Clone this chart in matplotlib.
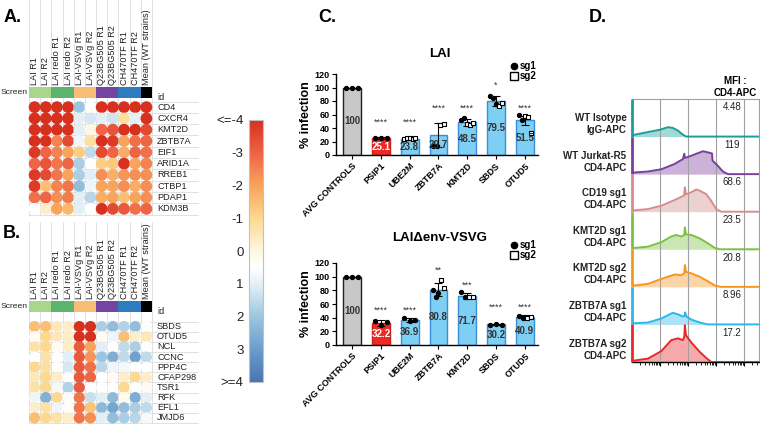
import numpy as np
import matplotlib
matplotlib.use('Agg')
import matplotlib.pyplot as plt
from matplotlib.colors import LinearSegmentedColormap, Normalize
from matplotlib.patches import Rectangle
from matplotlib.lines import Line2D
import matplotlib.cm as cm

plt.rcParams['font.family'] = ['Liberation Sans', 'DejaVu Sans']

# ---- panel A / B data ----
screens = ['LAI R1', 'LAI R2', 'LAI redo R1', 'LAI redo R2', 'LAI-VSVg R1', 'LAI-VSVg R2',
           'Q23BG505 R1', 'Q23BG505 R2', 'CH470TF R1', 'CH470TF R2', 'Mean (WT strains)']
screen_colors = ['#a8d68a', '#a8d68a', '#5bb56e', '#5bb56e', '#f8bd74', '#f8bd74',
                 '#7444a0', '#7444a0', '#2e7cc0', '#2e7cc0', '#000000']

genes_a = ['CD4', 'CXCR4', 'KMT2D', 'ZBTB7A', 'EIF1', 'ARID1A', 'RREB1', 'CTBP1', 'PDAP1', 'KDM3B']
vals_a = [
    [-4, -4, -4, -4, 2.0, 0.5, -4, -4, -4, -4, -4],
    [-4, -4, -4, -4, 1.0, 1.2, 1.0, 1.3, -0.8, 1.0, -4],
    [-4, -4, -4, -4, 1.0, 0.0, -3.0, -3.3, -4, -4, -3.5],
    [-4, -4, -2.5, -3.5, 0.8, -0.8, -4, -3.8, -2.0, -2.8, -3.0],
    [-3.8, -3.0, -2.5, -2.0, -1.2, 1.5, -3.5, -3.0, -1.8, -3.0, -2.8],
    [-3.0, -3.3, -2.7, -3.0, 1.8, 0.5, -1.2, -1.3, -4, -2.0, -2.5],
    [-3.8, -3.5, -2.7, -2.0, 1.8, 1.0, -2.3, -1.8, -2.2, -2.3, -2.3],
    [-3.8, -1.5, -2.5, -2.7, 2.2, 0.8, -2.0, -2.0, -2.3, -1.8, -2.3],
    [-2.8, -3.0, -2.3, -2.6, 1.0, 1.6, -1.8, -2.0, -1.5, -2.0, -2.3],
    [0.5, -0.3, -2.0, -1.6, 1.0, 0.5, -4, -3.5, -3.2, -2.8, -3.0],
]
genes_b = ['SBDS', 'OTUD5', 'NCL', 'CCNC', 'PPP4C', 'CFAP298', 'TSR1', 'RFK', 'EFL1', 'JMJD6']
vals_b = [
    [-1.5, -1.5, -0.5, -0.3, -4, -4, 1.8, 2.2, 1.7, 2.2, 0.5],
    [0.3, -1.0, -0.5, -0.3, -4, -4, 0.3, 0.8, -1.5, -0.3, -0.5],
    [-0.7, -1.0, 0.3, -0.3, -3.2, -2.0, 1.0, 0.5, 1.5, 1.8, 0.5],
    [0.5, -0.7, 0.4, 1.0, -3.2, -2.2, 2.0, 2.6, 1.5, 2.9, 1.5],
    [-1.0, -0.8, 0.5, 1.2, -3.2, -2.8, 1.6, 0.8, 0.7, 0.5, 0.5],
    [-0.5, -1.0, -0.3, 0.5, -3.2, -3.0, 0.5, 0.3, -0.3, -1.0, -0.3],
    [-0.7, -1.0, 0.7, 1.7, -3.2, 0.5, 0.5, 0.5, -1.0, 0.5, 0.3],
    [0.8, 2.5, -1.0, 0.4, -2.7, 1.4, 1.0, 2.3, 0.2, 2.6, 1.0],
    [-0.3, -0.7, 0.8, 0.5, -2.7, -1.4, 2.3, 2.8, 2.2, 1.8, 1.5],
    [-1.5, -1.0, -0.7, -0.3, -2.7, -2.3, 1.0, 2.2, 1.8, 1.6, 0.7],
]
cbar_ticks = [-4, -3, -2, -1, 0, 1, 2, 3, 4]
cbar_labels = ['<=-4', '-3', '-2', '-1', '0', '1', '2', '3', '>=4']

# ---- panel C data ----
genes_c = ['AVG CONTROLS', 'PSIP1', 'UBE2M', 'ZBTB7A', 'KMT2D', 'SBDS', 'OTUD5']
lai_mean = [100, 25.1, 23.8, 29.7, 48.5, 79.5, 51.5]
lai_sd = [0, 1, 1, 17.5, 5, 7.5, 6.5]
lai_stars = ['', '****', '****', '****', '****', '*', '****']
lai_star_y = [0, 51, 51, 72, 72, 106, 72]
lai_sg1 = [[100, 100, 100], [25, 25.5, 24.5], [], [14, 13], [52, 55], [87, 84, 76], [60, 52]]
lai_sg2 = [[], [], [23.5, 24.5, 25, 24, 25], [45, 46], [46, 45, 47], [73, 77], [58, 56, 32]]

vsv_mean = [100, 32.2, 36.9, 80.8, 71.7, 30.2, 40.9]
vsv_sd = [0, 4, 3, 9.5, 4, 1, 3]
vsv_stars = ['', '****', '****', '**', '***', '****', '****']
vsv_star_y = [0, 54, 54, 113, 91, 58, 58]
vsv_sg1 = [[100, 100, 100], [35, 29, 33], [39, 35, 37], [80, 70, 76], [77, 70], [30, 31, 30], [43, 40]]
vsv_sg2 = [[], [], [], [95, 84], [70, 70], [], [39, 41]]

# ---- panel D data ----
hist_labels = ['WT Isotype\nIgG-APC', 'WT Jurkat-R5\nCD4-APC', 'CD19 sg1\nCD4-APC', 'KMT2D sg1\nCD4-APC',
               'KMT2D sg2\nCD4-APC', 'ZBTB7A sg1\nCD4-APC', 'ZBTB7A sg2\nCD4-APC']
hist_mfi = ['4.48', '119', '68.6', '23.5', '20.8', '8.96', '17.2']
hist_colors = ['#17a09a', '#7b3f9e', '#d48e8c', '#7cc242', '#f7961f', '#2bb7ea', '#e8282b']
hist_x = [
    [0, 0.10, 0.57, 0.99, 1.29, 1.46, 1.64, 1.82, 1.94, 4.54],
    [0, 0.57, 1.05, 1.52, 1.82, 1.87, 1.89, 2.12, 2.36, 2.54, 2.71, 2.86, 2.88, 3.07, 3.25, 3.43, 4.54],
    [0, 0.57, 1.05, 1.52, 1.86, 1.89, 1.93, 2.12, 2.30, 2.42, 2.65, 2.83, 3.01, 3.19, 4.54],
    [0, 0.57, 1.05, 1.40, 1.58, 1.76, 1.87, 1.89, 1.93, 2.12, 2.42, 2.71, 2.95, 3.13, 4.54],
    [0, 0.57, 1.05, 1.52, 1.76, 1.87, 1.89, 1.93, 2.12, 2.42, 2.71, 2.98, 3.19, 4.54],
    [0, 0.57, 1.05, 1.46, 1.64, 1.82, 1.88, 1.90, 1.95, 2.12, 2.42, 2.71, 4.54],
    [0, 0.57, 1.05, 1.40, 1.64, 1.82, 1.87, 1.89, 1.93, 2.12, 2.42, 2.65, 2.83, 4.54],
]
hist_h = [
    [0.02, 0.05, 0.12, 0.18, 0.25, 0.23, 0.16, 0.05, 0, 0],
    [0.04, 0.07, 0.13, 0.27, 0.40, 0.54, 0.43, 0.49, 0.56, 0.61, 0.58, 0.55, 0.36, 0.22, 0.07, 0, 0],
    [0.03, 0.07, 0.16, 0.31, 0.43, 0.65, 0.46, 0.52, 0.59, 0.56, 0.47, 0.29, 0.07, 0, 0],
    [0.03, 0.07, 0.19, 0.34, 0.38, 0.34, 0.38, 0.58, 0.40, 0.38, 0.29, 0.16, 0.04, 0, 0],
    [0.03, 0.08, 0.21, 0.33, 0.31, 0.36, 0.58, 0.40, 0.36, 0.27, 0.15, 0.03, 0, 0],
    [0.03, 0.05, 0.16, 0.31, 0.27, 0.21, 0.23, 0.32, 0.21, 0.13, 0.05, 0, 0],
    [0.03, 0.09, 0.29, 0.58, 0.63, 0.58, 0.67, 0.98, 0.71, 0.52, 0.27, 0.11, 0, 0],
]

W, H = 760, 432
fig = plt.figure(figsize=(7.6, 4.32), dpi=100)


def px_axes(l, t, r, b):
    return fig.add_axes([l / W, 1 - b / H, (r - l) / W, (b - t) / H])


cmap = LinearSegmentedColormap.from_list('rdwb', [
    (0.0, '#d7301f'), (0.125, '#ee6444'), (0.25, '#f7a45c'), (0.375, '#fcd98e'),
    (0.5, '#fff6e2'), (0.5625, '#ffffff'), (0.625, '#e4f0f7'), (0.75, '#9dc6df'),
    (0.875, '#6c9ecc'), (1.0, '#4874b3')])
norm = Normalize(-4, 4)


def heat_panel(vals, genes, top, bottom, line_top, bar_top, bar_bot, dot):
    ax = px_axes(29, top, 152, bottom)
    rh = (bottom - top) / 10
    cw = (152 - 29) / 11

    def py(p):
        return (p - top) / rh
    ax.set_xlim(0, 11)
    ax.set_ylim(10, 0)
    ax.axis('off')
    for j in range(12):
        ax.plot([j, j], [py(line_top), 10], color='#dcdcdc', lw=0.6, clip_on=False, zorder=1)
    for i in range(11):
        ax.plot([0, (198 - 29) / cw], [i, i], color='#dcdcdc', lw=0.6, clip_on=False, zorder=1)
    for j, c in enumerate(screen_colors):
        ax.add_patch(Rectangle((j, py(bar_top)), 1, py(bar_bot) - py(bar_top), color=c,
                               clip_on=False, zorder=2, lw=0))
        ax.text(j + 0.5, py(bar_top) - 0.2, screens[j], rotation=90, ha='center', va='bottom',
                fontsize=6.6, color='#222222', clip_on=False)
    ax.text(-0.12, py((bar_top + bar_bot) / 2), 'Screen', ha='right', va='center', fontsize=6.1,
            color='#222222')
    ax.text(11.45, py(bar_bot), 'id', ha='left', va='center', fontsize=6.6, color='#222222')
    xs, ys = np.meshgrid(np.arange(11) + 0.5, np.arange(10) + 0.5)
    ax.scatter(xs.ravel(), ys.ravel(), c=np.array(vals).ravel(), cmap=cmap, norm=norm,
               s=(dot * 0.72) ** 2, edgecolors='none', zorder=3, clip_on=False)
    for i, g in enumerate(genes):
        ax.text(11.45, i + 0.5, g, ha='left', va='center', fontsize=6.6, color='#222222')


heat_panel(vals_a, genes_a, 101.5, 214.5, 0, 87, 97.5, 11.8)
heat_panel(vals_b, genes_b, 321.5, 423, 222, 301, 312, 11.2)

# colorbar
cax = px_axes(249, 120, 263, 382)
cb = fig.colorbar(cm.ScalarMappable(norm=norm, cmap=cmap), cax=cax)
cax.invert_yaxis()
cax.yaxis.set_ticks_position('left')
cb.set_ticks(cbar_ticks)
cb.set_ticklabels(cbar_labels)
cax.tick_params(length=0, labelsize=9.5, pad=4, colors='#222222')
cb.outline.set_edgecolor('#c0c0c0')

# ---- panel C ----
bar_colors = ['#c8c8c8', '#ee2a24'] + ['#7dcff4'] * 5
bar_edges = ['#222222', '#c81f1f'] + ['#3a8ed8'] * 5
label_colors = ['#333333', 'white'] + ['#333333'] * 5


def bar_panel(top, bottom, title, title_y, means, sds, stars, star_y, sg1, sg2, leg_y):
    ax = px_axes(336, top, 538, bottom)
    x = np.arange(len(genes_c))
    ax.bar(x, means, width=0.62, color=bar_colors, edgecolor=bar_edges, lw=1, zorder=2)
    ax.errorbar(x, means, yerr=sds, fmt='none', ecolor='black', elinewidth=0.8, capsize=3,
                capthick=0.8, zorder=3)
    for i in x:
        n1, n2 = len(sg1[i]), len(sg2[i])
        n = n1 + n2
        offs = np.linspace(-0.2, 0.2, n) if n > 1 else np.zeros(n)
        if n1:
            ax.scatter(i + offs[:n1], sg1[i], s=8, c='black', marker='o', zorder=4, clip_on=False)
        if n2:
            ax.scatter(i + offs[n1:], sg2[i], s=8, facecolors='white', edgecolors='black',
                       marker='s', lw=0.8, zorder=4, clip_on=False)
        ax.text(i, means[i] / 2, f'{means[i]:g}', ha='center', va='center', fontsize=7,
                fontweight='bold', color=label_colors[i], zorder=5)
        if stars[i]:
            ax.text(i, star_y[i] - 3, stars[i], ha='center', va='center', fontsize=6.5,
                    color='#333333')
    ax.set_xlim(-0.56, 6.46)
    ax.set_ylim(0, 120)
    ax.set_yticks(range(0, 121, 20))
    ax.set_xticks(x)
    ax.set_xticklabels(genes_c, rotation=45, ha='right', rotation_mode='anchor')
    for lab in ax.get_xticklabels() + ax.get_yticklabels():
        lab.set_fontweight('bold')
    ax.tick_params(labelsize=6.5, length=3, width=0.8, pad=1.5)
    ax.spines['top'].set_visible(False)
    ax.spines['right'].set_visible(False)
    ax.spines['left'].set_linewidth(1)
    ax.spines['bottom'].set_linewidth(1)
    ax.set_ylabel('% infection', fontsize=9, fontweight='bold', labelpad=2)
    fig.text(440 / W, 1 - title_y / H, title, ha='center', va='center', fontsize=9.5,
             fontweight='bold')
    handles = [Line2D([], [], marker='o', ls='none', color='black', markersize=4.5),
               Line2D([], [], marker='s', ls='none', markerfacecolor='white',
                      markeredgecolor='black', markersize=5.5)]
    fig.legend(handles, ['sg1', 'sg2'], loc='upper left', bbox_to_anchor=(510 / W, 1 - leg_y / H),
               frameon=False, prop={'size': 7, 'weight': 'bold'}, handletextpad=0.2,
               labelspacing=0.05, handlelength=0.8, borderpad=0, borderaxespad=0)


bar_panel(74, 155, 'LAI', 54, lai_mean, lai_sd, lai_stars, lai_star_y, lai_sg1, lai_sg2, 61)
bar_panel(263, 345, 'LAI\u0394env-VSVG', 238, vsv_mean, vsv_sd, vsv_stars, vsv_star_y,
          vsv_sg1, vsv_sg2, 240)

# ---- panel D ----
axd = px_axes(632, 99, 759, 362)
axd.set_xlim(0, 4.54)
axd.set_ylim(0, 7)
for g in [1, 2, 3, 4]:
    axd.axvline(g, color='#a0a0a0', lw=0.8, zorder=3)
for i in range(7):
    base = 6 - i
    xs = np.array(hist_x[i])
    hs = base + np.array(hist_h[i])
    axd.fill_between(xs, base, hs, color=hist_colors[i], alpha=0.4, lw=0, zorder=1)
    axd.plot(xs, hs, color=hist_colors[i], lw=1.4, zorder=4, solid_joinstyle='round')
    axd.plot([0, 0], [base, base + 1], color=hist_colors[i], lw=2, zorder=5, clip_on=False,
             solid_capstyle='butt')
    axd.text(3.57, base + 0.78, hist_mfi[i], ha='center', va='center', fontsize=7,
             color='#222222')
    axd.text(-0.2, base + 0.33, hist_labels[i], ha='right', va='center', fontsize=7,
             fontweight='bold', color='#222222', linespacing=1.25)
axd.set_yticks([])
axd.spines['left'].set_visible(False)
axd.spines['top'].set_color('#a0a0a0')
axd.spines['right'].set_color('#a0a0a0')
axd.spines['bottom'].set_linewidth(1)
axd.set_xticks([1, 2, 3, 4])
axd.set_xticklabels([])
axd.set_xticks([d + np.log10(k) for d in range(5) for k in range(2, 10) if d + np.log10(k) < 4.54],
               minor=True)
axd.tick_params(axis='x', which='major', length=3, width=0.8)
axd.tick_params(axis='x', which='minor', length=1.8, width=0.6)
fig.text(735 / W, 1 - 87 / H, 'MFI :\nCD4-APC', ha='center', va='center', fontsize=7,
         fontweight='bold', linespacing=1.3)

# panel letters
for txt, xp, yp in [('A.', 4, 18), ('B.', 3, 233), ('C.', 318, 18), ('D.', 589, 18)]:
    fig.text(xp / W, 1 - yp / H, txt, ha='left', va='center', fontsize=13, fontweight='bold')

fig.savefig('out.png', dpi=100)
